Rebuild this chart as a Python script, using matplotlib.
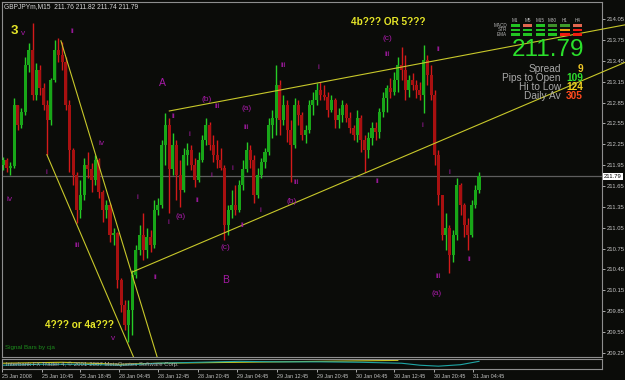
import matplotlib
matplotlib.use('Agg')
import matplotlib.pyplot as plt
from matplotlib.patches import Rectangle
import numpy as np

plt.rcParams['font.family'] = ['Liberation Sans', 'DejaVu Sans']

# ---------------- data (GBPJPYm, M15, each candle = 3 x M15 bars) ----------------
OPEN = [211.95, 212.03, 211.91, 211.94, 212.82, 212.53, 212.72, 213.39, 213.61, 212.96,
        213.32, 213.06, 212.82, 212.60, 213.18, 213.61, 213.54, 213.44, 212.82, 212.17,
        211.81, 211.31, 211.52, 211.95, 211.89, 211.74, 212.03, 211.56, 211.31, 211.38,
        210.95, 210.98, 210.30, 209.94, 209.65, 209.87, 210.37, 210.73, 210.95, 210.73,
        210.91, 210.80, 211.31, 211.38, 212.24, 212.53, 211.89, 212.24, 211.81, 211.59,
        212.10, 212.17, 211.95, 211.74, 212.03, 212.31, 212.53, 212.24, 212.10, 212.03,
        211.91, 211.09, 211.31, 211.38, 211.31, 211.67, 211.89, 212.17, 212.03, 211.52,
        211.81, 212.00, 212.14, 212.53, 212.63, 213.11, 212.60, 212.82, 212.46, 212.24,
        212.82, 212.67, 212.39, 212.46, 212.82, 212.89, 213.03, 212.96, 212.93, 212.75,
        212.89, 212.60, 212.67, 212.82, 212.63, 212.49, 212.39, 212.63, 212.31, 212.17,
        212.34, 212.49, 212.43, 212.72, 212.92, 213.06, 213.01, 213.18, 213.39, 213.32,
        213.03, 213.18, 213.11, 213.03, 212.96, 213.47, 213.25, 212.96, 212.10, 211.52,
        210.95, 211.05, 210.66, 210.95, 211.67, 211.38, 211.09, 210.95, 211.38, 211.59]
HIGH = [212.07, 212.05, 212.00, 212.92, 212.82, 212.77, 213.50, 213.71, 214.00, 213.42,
        213.39, 213.13, 212.89, 213.21, 213.75, 213.78, 213.73, 213.50, 212.89, 212.20,
        211.85, 211.74, 212.05, 212.14, 211.98, 212.10, 212.05, 211.59, 211.45, 211.41,
        211.05, 210.99, 210.33, 210.01, 210.01, 210.44, 210.80, 211.09, 211.26, 211.05,
        211.02, 211.45, 211.48, 212.31, 212.70, 212.63, 212.41, 212.31, 212.03, 212.20,
        212.27, 212.24, 212.05, 212.14, 212.39, 212.63, 212.57, 212.39, 212.31, 212.20,
        211.95, 211.38, 211.59, 211.67, 211.74, 212.03, 212.29, 212.24, 212.10, 211.91,
        212.05, 212.20, 212.63, 212.75, 213.39, 213.18, 212.96, 212.89, 212.60, 212.92,
        212.89, 212.72, 212.53, 212.89, 213.01, 213.13, 213.15, 213.11, 213.01, 212.96,
        212.92, 212.77, 212.89, 212.85, 212.72, 212.53, 212.75, 212.67, 212.39, 212.43,
        212.57, 212.57, 212.77, 213.01, 213.11, 213.21, 213.29, 213.51, 213.65, 213.54,
        213.25, 213.28, 213.18, 213.15, 213.68, 213.54, 213.39, 213.03, 212.17, 211.52,
        211.26, 211.09, 211.02, 211.77, 211.70, 211.41, 211.19, 211.45, 211.67, 211.85]
LOW = [211.88, 211.85, 211.81, 211.91, 212.46, 212.49, 212.67, 213.29, 212.89, 212.89,
       212.96, 212.75, 212.10, 212.53, 213.15, 213.44, 213.32, 212.75, 211.85, 211.67,
       211.12, 211.19, 211.45, 211.77, 211.56, 211.67, 211.48, 211.13, 211.19, 210.85,
       210.80, 210.18, 209.84, 209.58, 209.41, 209.51, 210.33, 210.66, 210.59, 210.62,
       210.70, 210.76, 211.23, 211.33, 211.95, 211.26, 211.81, 211.45, 211.35, 211.56,
       211.95, 211.88, 211.64, 211.71, 212.00, 212.24, 212.17, 212.00, 211.91, 211.88,
       210.87, 210.95, 211.19, 211.23, 211.28, 211.59, 211.85, 211.91, 211.41, 211.48,
       211.77, 211.91, 212.10, 212.34, 212.39, 212.39, 212.53, 212.29, 211.71, 212.20,
       212.53, 212.31, 212.27, 212.41, 212.67, 212.82, 212.89, 212.89, 212.65, 212.72,
       212.49, 212.49, 212.57, 212.57, 212.41, 212.31, 212.29, 212.14, 211.85, 212.05,
       212.24, 212.31, 212.34, 212.65, 212.72, 212.92, 212.96, 213.01, 213.18, 212.89,
       212.93, 213.03, 212.92, 212.89, 212.70, 213.11, 212.89, 211.95, 211.38, 210.87,
       210.73, 210.40, 210.56, 210.87, 211.23, 210.91, 210.73, 210.91, 211.33, 211.55]
CLOSE = [212.03, 211.91, 211.94, 212.82, 212.53, 212.72, 213.39, 213.61, 212.96, 213.32,
         213.06, 212.82, 212.60, 213.18, 213.61, 213.54, 213.44, 212.82, 212.17, 211.81,
         211.31, 211.52, 211.95, 211.89, 211.74, 212.03, 211.56, 211.31, 211.38, 210.95,
         210.98, 210.30, 209.94, 209.65, 209.87, 210.37, 210.73, 210.95, 210.73, 210.91,
         210.80, 211.31, 211.38, 212.24, 212.53, 211.89, 212.24, 211.81, 211.59, 212.10,
         212.17, 211.95, 211.74, 212.03, 212.31, 212.53, 212.24, 212.10, 212.03, 211.91,
         211.09, 211.31, 211.38, 211.31, 211.67, 211.89, 212.17, 212.03, 211.52, 211.81,
         212.00, 212.14, 212.53, 212.63, 213.11, 212.60, 212.82, 212.46, 212.24, 212.82,
         212.67, 212.39, 212.46, 212.82, 212.89, 213.03, 212.96, 212.93, 212.75, 212.89,
         212.60, 212.67, 212.82, 212.63, 212.49, 212.39, 212.63, 212.31, 212.17, 212.34,
         212.49, 212.43, 212.72, 212.92, 213.06, 213.01, 213.18, 213.39, 213.32, 213.03,
         213.18, 213.11, 213.03, 212.96, 213.47, 213.25, 212.96, 212.10, 211.52, 210.95,
         211.05, 210.66, 210.95, 211.67, 211.38, 211.09, 210.95, 211.38, 211.59, 211.79]

BID = 211.79
PRICE_TICKS = [209.25, 209.55, 209.85, 210.15, 210.45, 210.75, 211.05, 211.35, 211.65,
               211.95, 212.25, 212.55, 212.85, 213.15, 213.45, 213.75, 214.05]
DATE_POS = [-0.27, 10.6, 20.9, 31.4, 42.0, 52.8, 63.4, 74.3, 85.1, 95.7, 105.9, 116.8, 127.4]
DATE_LABELS = ['25 Jan 2008', '25 Jan 10:45', '25 Jan 18:45', '28 Jan 04:45', '28 Jan 12:45',
               '28 Jan 20:45', '29 Jan 04:45', '29 Jan 12:45', '29 Jan 20:45', '30 Jan 04:45',
               '30 Jan 12:45', '30 Jan 20:45', '31 Jan 04:45']

# trend lines: (x0, p0, x1, p1)
TRENDLINES = [(15.7, 213.74, 44.0, 208.80),
              (11.9, 212.10, 38.5, 208.80),
              (34.96, 210.41, 168.56, 213.43),
              (45.07, 212.73, 168.56, 213.97)]

# wave labels: (text, x, price)
WAVE_LABELS = [('v', 5.4, 213.85), ('ii', 18.7, 213.87), ('iv', 26.6, 212.26), ('i', 11.9, 211.84),
               ('iv', 1.9, 211.45), ('i', 36.3, 211.49), ('iii', 20.05, 210.79), ('ii', 41.2, 210.33),
               ('v', 29.8, 209.46), ('(b)', 55.3, 212.90), ('ii', 46.1, 212.65), ('iii', 58.0, 212.80),
               ('(a)', 65.9, 212.77), ('i', 50.4, 212.39), ('iii', 65.9, 212.49), ('i', 56.4, 211.80),
               ('i', 62.3, 211.90), ('iii', 75.9, 213.39), ('i', 85.4, 213.36), ('iii', 79.4, 211.70),
               ('ii', 52.6, 211.44), ('(a)', 48.2, 211.21), ('i', 44.7, 211.12), ('(b)', 78.3, 211.42),
               ('i', 69.9, 211.29), ('ii', 65.0, 211.08), ('(c)', 60.2, 210.76), ('(c)', 104.1, 213.77),
               ('iii', 104.1, 213.55), ('ii', 117.9, 213.61), ('i', 113.6, 212.52), ('ii', 101.4, 211.72),
               ('i', 120.9, 211.85), ('iii', 117.9, 210.34), ('(a)', 117.6, 210.10), ('ii', 126.3, 210.59)]
BIG_LABELS = [('A', 43.1, 213.13), ('B', 60.4, 210.30)]
YELLOW_LABELS = [('3', 2.98, 213.88, 9.5), ('4b??? OR 5???', 104.3, 214.01, 7.2),
                 ('4??? or 4a???', 20.6, 209.65, 7.2)]

# indicator sub-window
IND_X = [0, 10, 21, 32, 42, 53, 64, 75, 86, 97, 108, 113, 118, 124, 129]
IND_CYAN = [36, 45, 45, 36, 55, 64, 73, 68, 68, 64, 55, 36, 27, 41, 73]
IND_YX = [0, 16, 32, 42, 64, 86, 107]
IND_YELLOW = [55, 64, 45, 55, 64, 73, 82]

# info panel
TF = ['M1', 'M5', 'M15', 'M30', 'H1', 'H4']
ROWS = ['MACD', 'STR', 'EMA']
SIGNALS = [['#22c322', '#e2674f', '#22c322', '#3e8f2a', '#3e9a2a', '#e2674f'],
           ['#22c322', '#22c322', '#22c322', '#22c322', '#e8a010', '#f01c10'],
           ['#22c322', '#22c322', '#22c322', '#22c322', '#f01c10', '#f01c10']]
STATS = [('Spread', '9', '#f0c828'), ('Pips to Open', '109', '#2ee02e'),
         ('Hi to Low', '124', '#f0d020'), ('Daily Av', '305', '#ff4a1e')]

# ---------------- drawing ----------------
W, H = 625, 380
BG = '#0b0c09'
GRID = '#8e8e8e'
TXT = '#c4c4c4'
MAG = '#a51aa5'
YEL = '#e6e628'

fig = plt.figure(figsize=(6.25, 3.8), dpi=100, facecolor=BG)


def fx(px):
    return px / W


def fy(py):
    return 1 - py / H


ax = fig.add_axes([fx(2), fy(357), fx(602) - fx(2), fy(2) - fy(357)])
ax.set_facecolor(BG)
ax.set_xlim(-0.27, 162.33)
ax.set_ylim(209.188, 214.299)

O = np.array(OPEN); Hh = np.array(HIGH); L = np.array(LOW); C = np.array(CLOSE)
idx = np.arange(len(C))
up = C >= O
cols = np.where(up, '#18a618', '#a81010')
wick = np.where(up, '#26cc26', '#d41a1a')
ax.vlines(idx, L, Hh, colors=wick, linewidth=1.0, zorder=3)
ax.bar(idx, np.maximum(np.abs(C - O), 0.015), bottom=np.minimum(O, C), width=0.82,
       color=cols, linewidth=0, zorder=4)

ax.axhline(BID, color='#5e5e5e', lw=0.9, zorder=2)

for k, (x0, p0, x1, p1) in enumerate(TRENDLINES):
    ax.plot([x0, x1], [p0, p1], color='#c8c82a', lw=0.8, zorder=5, clip_on=(k < 2))

for t, x, p in WAVE_LABELS:
    ax.text(x, p, t, color=MAG, fontsize=6, ha='center', va='center', zorder=6)
for t, x, p in BIG_LABELS:
    ax.text(x, p, t, color=MAG, fontsize=7.5, ha='center', va='center', zorder=6)
for t, x, p, s in YELLOW_LABELS:
    ax.text(x, p, t, color=YEL, fontsize=s, fontweight='bold', ha='center', va='center', zorder=6)

ax.yaxis.tick_right()
ax.set_yticks(PRICE_TICKS)
ax.set_yticklabels([f'{v:.2f}' for v in PRICE_TICKS])
ax.tick_params(axis='y', colors=TXT, labelsize=4.2, length=2, pad=1.2, width=0.6)
ax.set_xticks([])
for s in ax.spines.values():
    s.set_color(GRID)
    s.set_linewidth(0.8)

ax.text(1.003, BID, f'{BID:.2f}', transform=ax.get_yaxis_transform(), ha='left', va='center',
        fontsize=4.2, color='black', zorder=10,
        bbox=dict(boxstyle='square,pad=0.2', fc='white', ec='none'))

# indicator panel
ax2 = fig.add_axes([fx(2), fy(369), fx(602) - fx(2), fy(358.5) - fy(369)])
ax2.set_facecolor(BG)
ax2.set_xlim(-0.27, 162.33)
ax2.set_ylim(0, 100)
ax2.plot(IND_YX, IND_YELLOW, color='#c8c820', lw=0.8)
ax2.plot(IND_X, IND_CYAN, color='#1fa6a6', lw=0.8)
ax2.set_yticks([])
ax2.set_xticks(DATE_POS)
ax2.set_xticklabels(DATE_LABELS)
for lbl in ax2.get_xticklabels():
    lbl.set_ha('left')
ax2.tick_params(axis='x', colors=TXT, labelsize=3.9, length=2, pad=1.5, width=0.6)
for s in ax2.spines.values():
    s.set_color(GRID)
    s.set_linewidth(0.8)
ax2.text(0.006, 0.5, 'Interbank FX Trader 4, \u00a9 2001-2007 MetaQuotes Software Corp.',
         transform=ax2.transAxes, fontsize=4.3, color='#b0b0b0', va='center', ha='left')

# header & notes
fig.text(fx(4), fy(7), 'GBPJPYm,M15  211.76 211.82 211.74 211.79', fontsize=4.8, color='#d8d8d8',
         va='center', ha='left')
fig.text(fx(5), fy(347), 'Signal Bars by cja', fontsize=4.5, color='#1c8c1c', va='center', ha='left')

# info panel
col_left = [510.7, 523.1, 535.5, 547.9, 560.3, 572.7]
row_top = [24.3, 28.6, 32.9]
for ci, name in enumerate(TF):
    fig.text(fx(col_left[ci] + 4.6), fy(20), name, fontsize=3.3, color='#b8b8b8', ha='center', va='center')
for ri, rname in enumerate(ROWS):
    fig.text(fx(507), fy(row_top[ri] + 1.2), rname, fontsize=3.3, color='#b8b8b8', ha='right', va='center')
    for ci in range(len(TF)):
        fig.add_artist(Rectangle((fx(col_left[ci]), fy(row_top[ri] + 2.6)), 9.3 / W, 2.6 / H,
                                 transform=fig.transFigure, color=SIGNALS[ri][ci], lw=0))
fig.text(fx(584), fy(50), f'{BID:.2f}', fontsize=17.5, color='#2be02b', ha='right', va='center')
for k, (lab, val, c) in enumerate(STATS):
    yy = 69 + 9 * k
    fig.text(fx(561), fy(yy), lab, fontsize=7.3, color='#a8a8a8', ha='right', va='center')
    fig.text(fx(583), fy(yy), val, fontsize=7.3, color=c, ha='right', va='center', fontweight='bold')

fig.savefig('out.png', dpi=100, facecolor=BG)
